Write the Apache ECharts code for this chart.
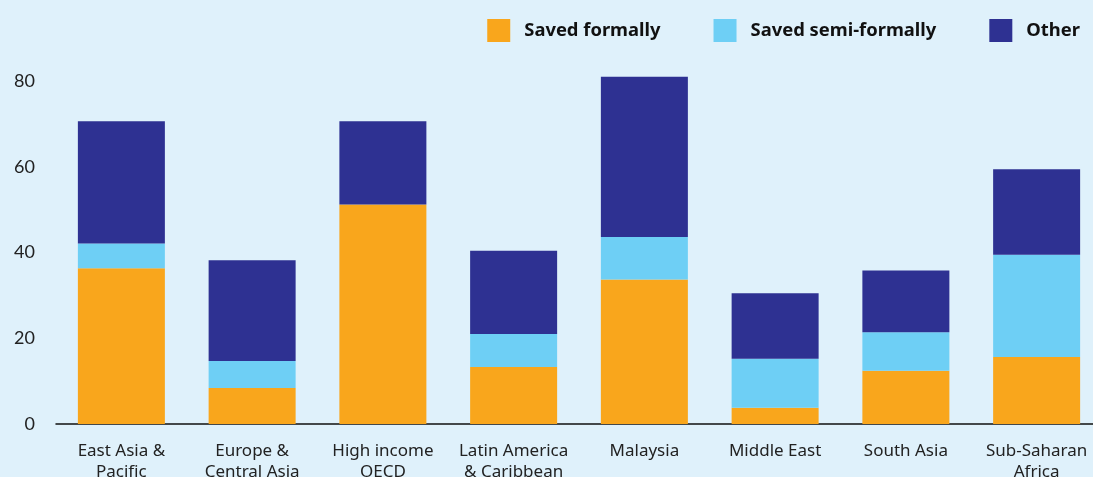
<!DOCTYPE html>
<html>
<head>
<meta charset="utf-8">
<script src="https://cdn.jsdelivr.net/npm/echarts@6/dist/echarts.min.js"></script>
<style>
  html, body { margin: 0; padding: 0; background: #dff1fb; }
  #chart { width: 1093px; height: 477px; }
</style>
</head>
<body>
<div id="chart"></div>
<script>
// categories and stacked values (percent)
const regions = ['East Asia &\nPacific', 'Europe &\nCentral Asia', 'High income\nOECD', 'Latin America\n& Caribbean',
  'Malaysia', 'Middle East', 'South Asia', 'Sub-Saharan\nAfrica'];
const savedFormally = [36.3, 8.4, 51.2, 13.3, 33.7, 3.8, 12.4, 15.6];
const savedSemiFormally = [5.8, 6.3, 0, 7.7, 9.9, 11.4, 9.0, 23.9];
const other = [28.5, 23.5, 19.4, 19.4, 37.4, 15.3, 14.4, 19.9];

const font = 'Lato, "Noto Sans", sans-serif';
const wideFont = '"Noto Sans", Lato, sans-serif';
const chart = echarts.init(document.getElementById('chart'));

const mkSeries = (name, data, color) => ({
  name,
  type: 'bar',
  stack: 'total',
  data,
  barWidth: 87,
  clip: false,
  itemStyle: { color },
  emphasis: { disabled: true }
});

chart.setOption({
  backgroundColor: '#dff1fb',
  animation: false,
  textStyle: { fontFamily: font },
  legend: {
    right: 8,
    top: 14,
    itemWidth: 23,
    itemHeight: 23,
    itemGap: 53,
    icon: 'rect',
    textStyle: { fontSize: 18.4, fontWeight: 'bold', color: '#111', padding: [0, 0, 0, 9], fontFamily: wideFont },
    data: ['Saved formally', 'Saved semi-formally', 'Other']
  },
  grid: {
    left: 56,
    right: -9,
    top: 81,
    bottom: 53,
    containLabel: false,
    outerBoundsMode: 'none'
  },
  xAxis: {
    type: 'category',
    data: regions,
    axisLine: { lineStyle: { color: '#111', width: 1.5 } },
    axisTick: { show: false },
    axisLabel: { interval: 0, fontSize: 17, lineHeight: 21, color: '#222', margin: 17, fontFamily: wideFont }
  },
  yAxis: {
    type: 'value',
    min: 0,
    max: 80,
    interval: 20,
    splitLine: { show: false },
    axisLine: { show: false },
    axisTick: { show: false },
    axisLabel: { fontSize: 18, color: '#222', margin: 21, fontFamily: font }
  },
  series: [
    mkSeries('Saved formally', savedFormally, '#f9a61c'),
    mkSeries('Saved semi-formally', savedSemiFormally, '#6ecff5'),
    mkSeries('Other', other, '#2e3192')
  ]
});
</script>
</body>
</html>
